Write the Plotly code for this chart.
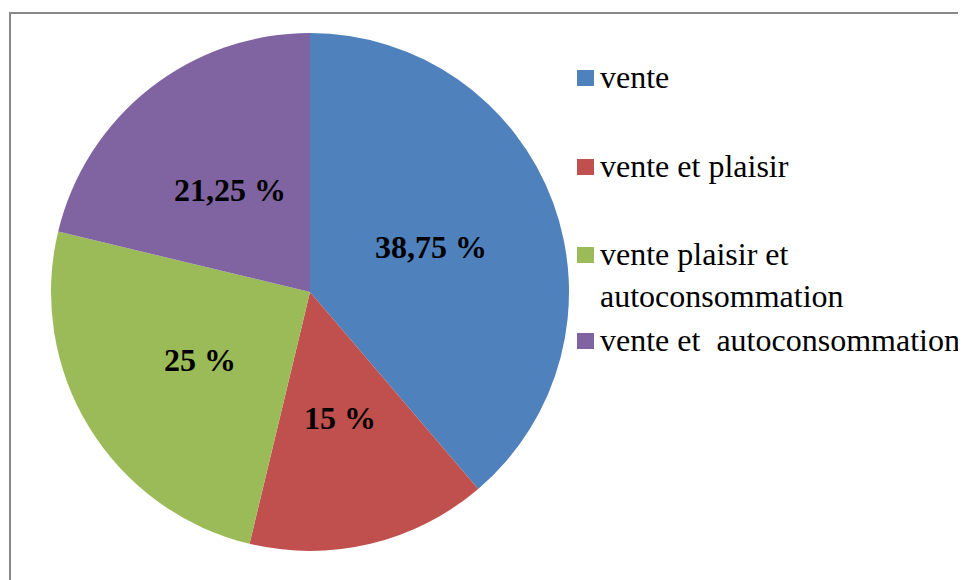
import math
import plotly.graph_objects as go

# ── data ────────────────────────────────────────────────────────────────
LABELS = [
    "vente",
    "vente et plaisir",
    "vente plaisir et autoconsommation",
    "vente et  autoconsommation",
]
LEGEND_TEXT = [
    "vente",
    "vente et plaisir",
    "vente plaisir et<br>autoconsommation",
    "vente et\u00a0\u00a0autoconsommation",
]
VALUES = [38.75, 15, 25, 21.25]
VALUE_TEXT = ["38,75 %", "15 %", "25 %", "21,25 %"]
COLORS = ["#4F81BD", "#C0504D", "#9BBB59", "#8064A2"]

# ── layout constants (window pixels) ───────────────────────────────────
PAGE_W, PAGE_H = 966, 580
OFF = 8                      # default <body> margin of the written page
W, H = PAGE_W - OFF, PAGE_H - OFF
CX, CY, R = 310, 292, 259
FONT = "Liberation Serif, Times New Roman, serif"
LEGEND_ROWS = [78, 167, 255, 341]   # vertical centre of each legend row (first line)


def px(x):
    return (x - OFF) / W


def py(y):
    return 1 - (y - OFF) / H


fig = go.Figure(
    go.Pie(
        labels=LABELS,
        values=VALUES,
        sort=False,
        direction="clockwise",
        rotation=0,
        marker=dict(colors=COLORS, line=dict(width=0)),
        textinfo="none",
        hoverinfo="label+percent",
        showlegend=False,
        domain=dict(x=[px(CX - R), px(CX + R)], y=[py(CY + R), py(CY - R)]),
    )
)

# slice labels, halfway out along each slice's bisector
total = sum(VALUES)
cum = 0
for v, txt in zip(VALUES, VALUE_TEXT):
    mid = (cum + v / 2) / total
    cum += v
    ang = math.radians(90 - 360 * mid)
    fig.add_annotation(
        x=px(CX + 0.5 * R * math.cos(ang)),
        y=py(CY - 0.5 * R * math.sin(ang)),
        xref="paper", yref="paper",
        text=f"<b>{txt}</b>",
        showarrow=False,
        font=dict(family=FONT, size=32, color="black"),
        xanchor="center", yanchor="middle",
    )

# hand-built legend (Word-style spacing)
for row, txt, col in zip(LEGEND_ROWS, LEGEND_TEXT, COLORS):
    fig.add_shape(
        type="rect", xref="paper", yref="paper",
        x0=px(577), x1=px(594), y0=py(row - 8), y1=py(row + 8),
        fillcolor=col, line=dict(width=0),
    )
    fig.add_annotation(
        x=px(598), y=py(row - 21),
        xref="paper", yref="paper",
        text=txt, align="left",
        showarrow=False,
        font=dict(family=FONT, size=32, color="black"),
        xanchor="left", yanchor="top",
    )

# chart frame
fig.add_shape(
    type="rect", xref="paper", yref="paper",
    x0=px(10), x1=px(PAGE_W + 20), y0=py(PAGE_H + 20), y1=py(13),
    line=dict(color="#888888", width=2), fillcolor="rgba(0,0,0,0)",
)

fig.update_layout(
    width=W, height=H,
    margin=dict(l=0, r=0, t=0, b=0),
    paper_bgcolor="white",
    plot_bgcolor="white",
)

fig.write_html("out.html")
